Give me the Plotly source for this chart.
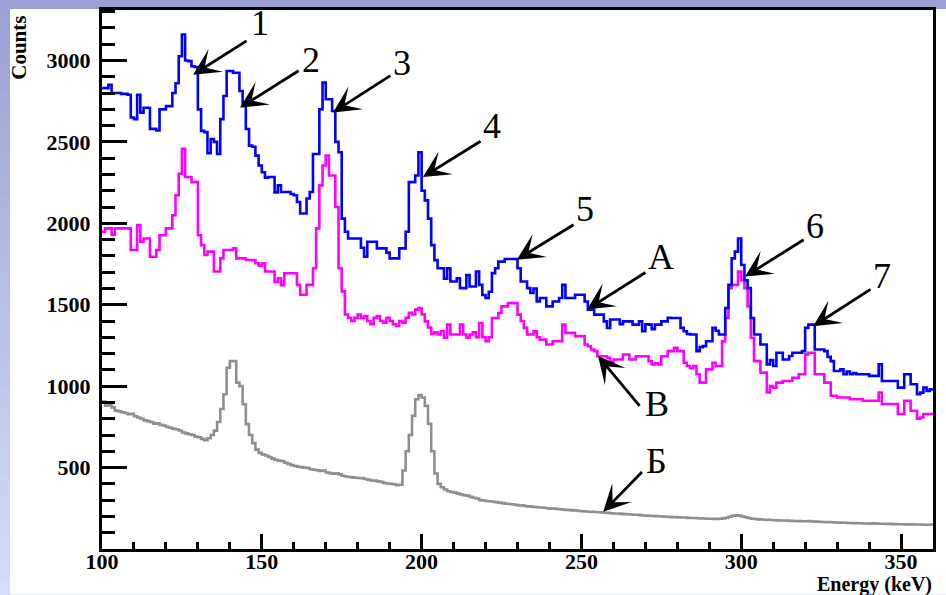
import plotly.graph_objects as go

# Spectra binned in 1 keV steps from 100 keV to 360 keV
E_MIN = 100.0
BIN_KEV = 1.0

# Spectrum "А" (blue)
counts_a = [
    2830, 2830, 2850, 2800, 2800, 2800, 2795, 2795, 2790, 2650,  # 100
    2640, 2790, 2680, 2710, 2710, 2580, 2580, 2570, 2700, 2700,  # 110
    2720, 2720, 2800, 2860, 3026, 3160, 3000, 2996, 2965, 2960,  # 120
    2700, 2568, 2560, 2430, 2518, 2500, 2426, 2640, 2782, 2935,  # 130
    2935, 2925, 2925, 2813, 2721, 2579, 2477, 2470, 2416, 2355,  # 140
    2314, 2280, 2284, 2284, 2190, 2233, 2192, 2192, 2192, 2180,  # 150
    2172, 2131, 2060, 2060, 2152, 2192, 2426, 2426, 2700, 2864,  # 160
    2762, 2762, 2690, 2500, 2436, 2029, 1948, 1907, 1907, 1907,  # 170
    1907, 1850, 1795, 1887, 1887, 1887, 1846, 1846, 1846, 1820,  # 180
    1785, 1785, 1785, 1846, 1846, 1948, 2253, 2253, 2294, 2436,  # 190
    2200, 2141, 2029, 1866, 1774, 1724, 1724, 1660, 1724, 1643,  # 200
    1643, 1663, 1602, 1602, 1683, 1612, 1612, 1704, 1622, 1560,  # 210
    1541, 1580, 1694, 1724, 1765, 1765, 1781, 1781, 1781, 1781,  # 220
    1724, 1643, 1643, 1602, 1572, 1600, 1520, 1541, 1541, 1490,  # 230
    1490, 1520, 1520, 1541, 1622, 1541, 1541, 1541, 1561, 1561,  # 240
    1561, 1520, 1470, 1470, 1439, 1439, 1439, 1398, 1357, 1409,  # 250
    1409, 1409, 1380, 1398, 1398, 1398, 1378, 1378, 1398, 1337,  # 260
    1380, 1378, 1350, 1378, 1378, 1398, 1398, 1420, 1419, 1419,  # 270
    1419, 1358, 1337, 1320, 1317, 1317, 1215, 1240, 1246, 1276,  # 280
    1276, 1358, 1340, 1317, 1317, 1480, 1622, 1785, 1826, 1907,  # 290
    1744, 1650, 1602, 1419, 1317, 1317, 1256, 1256, 1134, 1160,  # 300
    1124, 1205, 1205, 1164, 1164, 1185, 1205, 1205, 1205, 1215,  # 310
    1358, 1378, 1378, 1225, 1225, 1225, 1215, 1180, 1154, 1093,  # 320
    1093, 1103, 1073, 1090, 1073, 1080, 1073, 1073, 1073, 1073,  # 330
    1063, 1063, 1063, 1134, 1032, 1032, 1032, 1032, 1032, 991,   # 340
    991, 1073, 1073, 1012, 1012, 951, 960, 991, 971, 980,        # 350
]

# Spectrum "В" (magenta)
counts_v = [
    1948, 1969, 1969, 1930, 1969, 1969, 1969, 1969, 1969, 1836,  # 100
    1836, 1989, 1887, 1907, 1907, 1795, 1795, 1836, 1927, 1927,  # 110
    1969, 1969, 2050, 2172, 2304, 2457, 2284, 2284, 2253, 2253,  # 120
    1927, 1866, 1805, 1826, 1826, 1704, 1704, 1785, 1836, 1836,  # 130
    1836, 1846, 1785, 1785, 1785, 1775, 1775, 1775, 1755, 1740,  # 140
    1755, 1704, 1704, 1704, 1640, 1663, 1620, 1693, 1693, 1693,  # 150
    1693, 1622, 1561, 1561, 1622, 1622, 1724, 1969, 2233, 2355,  # 160
    2416, 2294, 2294, 2100, 1724, 1582, 1440, 1420, 1400, 1420,  # 170
    1440, 1420, 1430, 1400, 1380, 1420, 1430, 1400, 1390, 1420,  # 180
    1400, 1380, 1370, 1400, 1390, 1420, 1450, 1440, 1470, 1480,  # 190
    1440, 1398, 1360, 1320, 1330, 1317, 1337, 1297, 1378, 1317,  # 200
    1317, 1317, 1378, 1317, 1297, 1317, 1330, 1300, 1388, 1300,  # 210
    1276, 1300, 1419, 1419, 1449, 1490, 1490, 1510, 1510, 1510,  # 220
    1439, 1400, 1358, 1317, 1317, 1337, 1300, 1286, 1286, 1256,  # 230
    1256, 1276, 1276, 1276, 1378, 1327, 1327, 1327, 1307, 1307,  # 240
    1307, 1256, 1245, 1225, 1215, 1184, 1184, 1184, 1174, 1150,  # 250
    1164, 1164, 1164, 1194, 1194, 1164, 1164, 1184, 1184, 1184,  # 260
    1184, 1154, 1133, 1140, 1133, 1184, 1184, 1215, 1215, 1235,  # 270
    1215, 1215, 1144, 1124, 1110, 1124, 1073, 1022, 1022, 1103,  # 280
    1103, 1144, 1124, 1124, 1276, 1419, 1602, 1622, 1622, 1704,  # 290
    1650, 1602, 1490, 1297, 1154, 1154, 1083, 1083, 961, 1000,   # 300
    990, 1022, 1022, 1032, 1032, 1032, 1052, 1052, 1073, 1073,   # 310
    1195, 1205, 1205, 1073, 1073, 1073, 1022, 1022, 941, 941,    # 320
    930, 930, 930, 930, 920, 920, 920, 920, 910, 910,            # 330
    910, 910, 910, 960, 890, 890, 890, 890, 890, 829,            # 340
    829, 910, 910, 849, 849, 800, 808, 829, 829, 829,            # 350
]

# Spectrum "Б" (gray)
counts_b = [
    905, 880, 885, 870, 850, 845, 840, 835, 828, 830,            # 100
    815, 808, 800, 790, 785, 780, 770, 772, 762, 758,            # 110
    750, 745, 738, 735, 728, 715, 710, 705, 700, 690,            # 120
    686, 676, 668, 680, 700, 727, 780, 860, 950, 1113,           # 130
    1154, 1154, 1022, 1000, 889, 767, 700, 650, 610, 590,        # 140
    580, 574, 565, 555, 548, 543, 540, 530, 523, 515,            # 150
    510, 505, 503, 500, 497, 490, 487, 484, 480, 482,            # 160
    470, 466, 462, 465, 458, 450, 445, 442, 440, 438,            # 170
    436, 435, 430, 425, 421, 420, 415, 412, 405, 402,            # 180
    400, 398, 392, 395, 482, 600, 700, 818, 920, 945,            # 190
    930, 879, 769, 600, 464, 400, 379, 365, 355, 350,            # 200
    346, 340, 335, 330, 328, 320, 315, 310, 300, 298,            # 210
    295, 293, 290, 288, 285, 282, 278, 276, 275, 272,            # 220
    268, 268, 264, 262, 260, 258, 256, 255, 253, 250,            # 230
    248, 248, 246, 244, 242, 240, 239, 237, 236, 233,            # 240
    232, 230, 229, 228, 227, 226, 225, 223, 222, 220,            # 250
    218, 218, 216, 214, 213, 212, 210, 210, 208, 206,            # 260
    205, 204, 203, 202, 201, 200, 198, 197, 196, 196,            # 270
    194, 193, 193, 191, 190, 190, 189, 188, 187, 186,            # 280
    186, 185, 184, 186, 188, 192, 198, 204, 207, 205,            # 290
    200, 195, 190, 186, 184, 182, 181, 180, 179, 178,            # 300
    177, 176, 175, 175, 174, 173, 172, 172, 171, 170,            # 310
    170, 172, 169, 168, 167, 166, 165, 165, 164, 163,            # 320
    162, 162, 161, 160, 160, 159, 158, 158, 157, 157,            # 330
    156, 158, 156, 155, 155, 154, 154, 153, 153, 152,            # 340
    152, 151, 152, 151, 150, 150, 150, 149, 149, 150,            # 350
]

x_ticks = [100, 150, 200, 250, 300, 350]
y_ticks = [500, 1000, 1500, 2000, 2500, 3000]

# Marked lines: label, arrow tip (keV, counts), arrow tail, label centre
markers = [
    ("1", 128.5, 2913, 145.7, 3126, 149.4, 3212),
    ("2", 143.2, 2711, 162.0, 2943, 165.4, 2986),
    ("3", 172.3, 2681, 190.7, 2913, 193.9, 2968),
    ("4", 200.4, 2284, 218.9, 2510, 222.0, 2577),
    ("5", 229.8, 1777, 248.0, 1997, 251.1, 2070),
    ("А", 251.8, 1472, 270.5, 1704, 274.9, 1777),
    ("6", 301.2, 1673, 320.0, 1905, 323.1, 1966),
    ("7", 322.5, 1368, 340.9, 1600, 344.1, 1661),
    ("В", 255.2, 1185, 268.6, 870, 273.6, 870),
    ("Б", 256.8, 228, 269.4, 482, 273.6, 523),
]

W, H = 946, 595
ML, MR, MT, MB = 102, 13, 7, 46
PW, PH = W - ML - MR, H - MT - MB


def px_to_paper(px, py):
    return (px - ML) / PW, (H - MB - py) / PH


def hist_xy(values):
    edges = [E_MIN + BIN_KEV * i for i in range(len(values) + 1)]
    return edges, list(values) + [values[-1]]


fig = go.Figure()
for vals, color in [(counts_b, "#8f8f8f"), (counts_v, "#ff00ff"), (counts_a, "#0000ff")]:
    xs, ys = hist_xy(vals)
    fig.add_trace(go.Scatter(x=xs, y=ys, mode="lines",
                             line=dict(color=color, width=2.6, shape="hv"),
                             showlegend=False, hoverinfo="skip"))

serif = "Liberation Serif"
annotations = []
for text, xt, yt, xa, ya, xl, yl in markers:
    annotations.append(dict(x=xt, y=yt, ax=xa, ay=ya, axref="x", ayref="y",
                            xref="x", yref="y", text="", showarrow=True,
                            arrowhead=3, arrowsize=1.6, arrowwidth=2.8,
                            arrowcolor="black", standoff=0))
    annotations.append(dict(x=xl, y=yl, xref="x", yref="y", text=text,
                            showarrow=False, xanchor="center", yanchor="middle",
                            yshift=3,
                            font=dict(family=serif, size=36, color="black")))

cx, cy = px_to_paper(19, 45)
annotations.append(dict(x=cx, y=cy, xref="paper", yref="paper", text="Counts",
                        textangle=-90, showarrow=False, xanchor="center",
                        yanchor="middle",
                        font=dict(family=serif, size=21, color="black", weight="bold")))
ex, ey = px_to_paper(934, 585)
annotations.append(dict(x=ex, y=ey, xref="paper", yref="paper", text="Energy (keV)",
                        showarrow=False, xanchor="right", yanchor="middle",
                        font=dict(family=serif, size=20, color="black", weight="bold")))

# Frame background: white panel on a lavender gradient border
shapes = []
top_rgb = (154, 160, 212)
bot_rgb = (212, 220, 250)
n_strips = 40
for i in range(n_strips):
    t = i / (n_strips - 1)
    r, g, b = [round(a + (c - a) * t) for a, c in zip(top_rgb, bot_rgb)]
    y0 = H * i / n_strips
    y1 = H * (i + 1) / n_strips + 1
    x0p, y0p = px_to_paper(0, y1)
    x1p, y1p = px_to_paper(10, y0)
    shapes.append(dict(type="rect", xref="paper", yref="paper", x0=x0p, x1=x1p,
                       y0=y0p, y1=y1p, fillcolor=f"rgb({r},{g},{b})",
                       line=dict(width=0), layer="below"))
wx0, wy0 = px_to_paper(10, H)
wx1, wy1 = px_to_paper(W, 6)
shapes.append(dict(type="rect", xref="paper", yref="paper", x0=wx0, x1=wx1,
                   y0=wy0, y1=wy1, fillcolor="white", line=dict(width=0),
                   layer="below"))

tick_font = dict(family=serif, size=22, color="black", weight="bold")
fig.update_layout(
    width=W, height=H, autosize=False,
    margin=dict(l=ML, r=MR, t=MT, b=MB, pad=0),
    paper_bgcolor=f"rgb{top_rgb}", plot_bgcolor="white",
    shapes=shapes, annotations=annotations,
    xaxis=dict(range=[100, 360], tickvals=x_ticks, ticks="inside", ticklen=15,
               tickwidth=3, tickcolor="black", showline=True, linewidth=3,
               linecolor="black", mirror=True, showgrid=False, zeroline=False,
               tickfont=tick_font, ticklabelstandoff=-9,
               minor=dict(dtick=10, tick0=100, ticks="inside", ticklen=7,
                          tickwidth=3, tickcolor="black", showgrid=False)),
    yaxis=dict(range=[0, 3310], tickvals=y_ticks, ticks="inside", ticklen=25,
               tickwidth=3, tickcolor="black", showline=True, linewidth=3,
               linecolor="black", mirror=True, showgrid=False, zeroline=False,
               tickfont=tick_font, ticklabelstandoff=4,
               minor=dict(dtick=100, tick0=0, ticks="inside", ticklen=13,
                          tickwidth=3, tickcolor="black", showgrid=False)),
)

fig.write_html("out.html", config={"displayModeBar": False})
